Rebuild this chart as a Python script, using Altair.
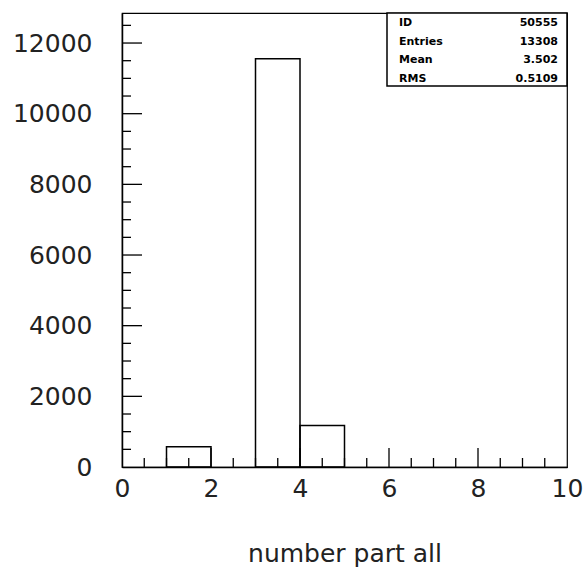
import altair as alt
import pandas as pd

# Histogram bins (low edge, high edge, entries)
bin_lo = [1, 3, 4]
bin_hi = [2, 4, 5]
counts = [575, 11557, 1176]

# Statistics box
stat_names = ["ID", "Entries", "Mean", "RMS"]
stat_values = ["50555", "13308", "3.502", "0.5109"]

# Axis labels and tick positions
x_labels = [0, 2, 4, 6, 8, 10]
y_labels = [0, 2000, 4000, 6000, 8000, 10000, 12000]
x_minor = [0.5, 1, 1.5, 2.5, 3, 3.5, 4.5, 5, 5.5, 6.5, 7, 7.5, 8.5, 9, 9.5]
x_major = [2, 4, 6, 8]
y_minor = [500, 1000, 1500, 2500, 3000, 3500, 4500, 5000, 5500, 6500, 7000,
           7500, 8500, 9000, 9500, 10500, 11000, 11500, 12500]
y_major = [2000, 4000, 6000, 8000, 10000, 12000]

W, H = 445, 454
FONT = "DejaVu Sans"

xs = alt.Scale(domain=[0, 10], nice=False, zero=False)
ys = alt.Scale(domain=[0, 12850], nice=False, zero=True)

hist = pd.DataFrame({"lo": bin_lo, "hi": bin_hi, "n": counts})

x_axis = alt.Axis(values=x_labels, ticks=False, tickSize=0, grid=False,
                  format="d", labelFlush=False,
                  labelFont=FONT, labelFontSize=25, labelColor="#222",
                  labelPadding=9, domainColor="black", domainWidth=1.5,
                  title="number part all", titleFont=FONT,
                  titleFontSize=25, titleFontWeight="normal",
                  titleColor="#222", titlePadding=40)

bars = alt.Chart(hist).mark_rect(
    fillOpacity=0, stroke="black", strokeWidth=1.5
).encode(
    x=alt.X("lo:Q", scale=xs, axis=x_axis),
    x2="hi:Q",
    y=alt.Y("n:Q", scale=ys,
            axis=alt.Axis(values=y_labels, ticks=False, tickSize=0, grid=False,
                          format="d", labelFlush=False,
                          labelFont=FONT, labelFontSize=25, labelColor="#222",
                          labelPadding=30, domainColor="black", domainWidth=1.5,
                          title=None)),
    y2=alt.datum(0),
)

def xticks(vals, length):
    return alt.Chart(pd.DataFrame({"t": vals})).mark_rule(
        color="black", strokeWidth=1.3
    ).encode(x=alt.X("t:Q", scale=xs, axis=x_axis),
             y=alt.value(H), y2=alt.value(H - length))

def yticks(vals, length):
    return alt.Chart(pd.DataFrame({"t": vals})).mark_rule(
        color="black", strokeWidth=1.3
    ).encode(y=alt.Y("t:Q", scale=ys, axis=None),
             x=alt.value(0), x2=alt.value(length))

stats = pd.DataFrame({"name": stat_names, "val": stat_values})

box = alt.Chart(pd.DataFrame({"k": [0]})).mark_rect(
    fill="white", stroke="black", strokeWidth=1.5
).encode(x=alt.value(265), x2=alt.value(445), y=alt.value(0), y2=alt.value(73))

row_scale = alt.Scale(type="point", domain=stat_names, range=[10, 66], padding=0)

names = alt.Chart(stats).mark_text(
    align="left", baseline="middle", font=FONT, fontSize=11,
    fontWeight="bold", color="black"
).encode(x=alt.value(277), y=alt.Y("name:N", scale=row_scale, axis=None),
         text="name:N")

vals = alt.Chart(stats).mark_text(
    align="right", baseline="middle", font=FONT, fontSize=11,
    fontWeight="bold", color="black"
).encode(x=alt.value(436), y=alt.Y("name:N", scale=row_scale, axis=None),
         text="val:N")

chart = alt.layer(
    bars,
    xticks(x_minor, 9), xticks(x_major, 19),
    yticks(y_minor, 9), yticks(y_major, 20),
    box, names, vals,
).resolve_scale(y="independent").properties(
    width=W, height=H,
    autosize=alt.AutoSizeParams(type="none"),
    padding={"left": 122, "top": 13, "right": 20, "bottom": 103},
    background="white",
).configure_view(stroke="black", strokeWidth=1.2)

chart.save("out.html", embed_options={"renderer": "svg", "actions": False})
